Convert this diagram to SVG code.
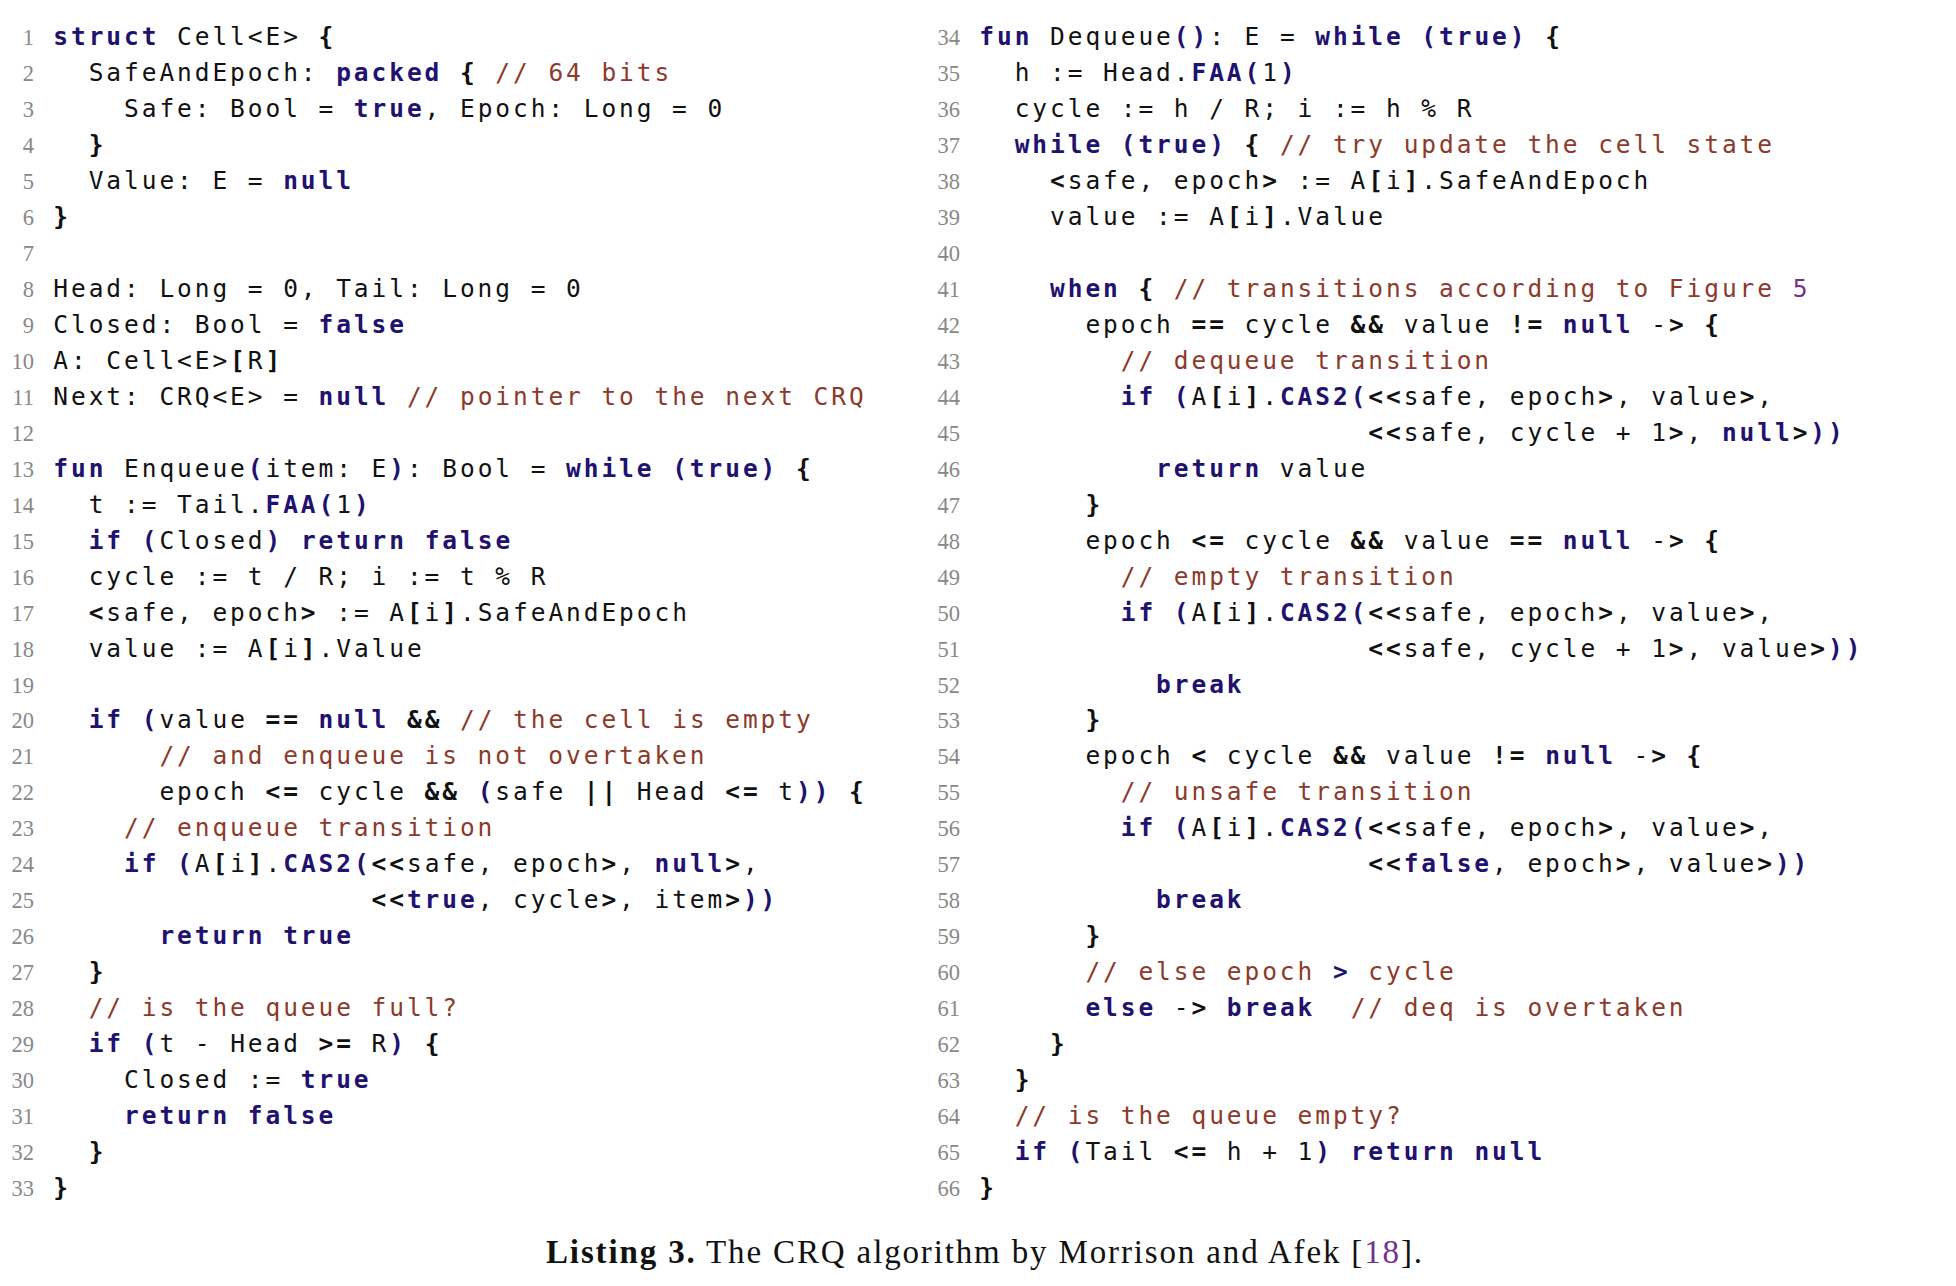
<svg xmlns="http://www.w3.org/2000/svg" width="1956" height="1286" viewBox="0 0 1956 1286">
<style>
.code{font-family:"DejaVu Sans Mono","Liberation Mono",monospace;font-size:24.5px;letter-spacing:2.93px;fill:#111}
.k{fill:#20126e;font-weight:bold}
.b{font-weight:bold}
.c{fill:#8b3a2b}
.p{fill:#74308e}
.ln{font-family:"Liberation Serif","DejaVu Serif",serif;font-size:22.5px;fill:#888;text-anchor:end}
.cap{font-family:"Liberation Serif","DejaVu Serif",serif;font-size:33px;fill:#111}
</style>
<rect width="1956" height="1286" fill="#fff"/>
<g id="left-numbers" class="ln">
<text x="34" y="45">1</text><text x="34" y="81">2</text><text x="34" y="116.9">3</text><text x="34" y="152.9">4</text><text x="34" y="188.9">5</text><text x="34" y="224.9">6</text><text x="34" y="260.8">7</text><text x="34" y="296.8">8</text><text x="34" y="332.8">9</text><text x="34" y="368.7">10</text><text x="34" y="404.7">11</text><text x="34" y="440.7">12</text><text x="34" y="476.6">13</text><text x="34" y="512.6">14</text><text x="34" y="548.6">15</text><text x="34" y="584.6">16</text><text x="34" y="620.5">17</text><text x="34" y="656.5">18</text><text x="34" y="692.5">19</text><text x="34" y="728.4">20</text><text x="34" y="764.4">21</text><text x="34" y="800.4">22</text><text x="34" y="836.3">23</text><text x="34" y="872.3">24</text><text x="34" y="908.3">25</text><text x="34" y="944.3">26</text><text x="34" y="980.2">27</text><text x="34" y="1016.2">28</text><text x="34" y="1052.2">29</text><text x="34" y="1088.1">30</text><text x="34" y="1124.1">31</text><text x="34" y="1160.1">32</text><text x="34" y="1196">33</text>
</g>
<g id="right-numbers" class="ln">
<text x="960" y="45">34</text><text x="960" y="81">35</text><text x="960" y="116.9">36</text><text x="960" y="152.9">37</text><text x="960" y="188.9">38</text><text x="960" y="224.9">39</text><text x="960" y="260.8">40</text><text x="960" y="296.8">41</text><text x="960" y="332.8">42</text><text x="960" y="368.7">43</text><text x="960" y="404.7">44</text><text x="960" y="440.7">45</text><text x="960" y="476.6">46</text><text x="960" y="512.6">47</text><text x="960" y="548.6">48</text><text x="960" y="584.6">49</text><text x="960" y="620.5">50</text><text x="960" y="656.5">51</text><text x="960" y="692.5">52</text><text x="960" y="728.4">53</text><text x="960" y="764.4">54</text><text x="960" y="800.4">55</text><text x="960" y="836.3">56</text><text x="960" y="872.3">57</text><text x="960" y="908.3">58</text><text x="960" y="944.3">59</text><text x="960" y="980.2">60</text><text x="960" y="1016.2">61</text><text x="960" y="1052.2">62</text><text x="960" y="1088.1">63</text><text x="960" y="1124.1">64</text><text x="960" y="1160.1">65</text><text x="960" y="1196">66</text>
</g>
<g id="left-code" class="code">
<text x="53.3" y="45"><tspan class="k">struct</tspan> Cell&lt;E&gt; <tspan class="b">{</tspan></text>
<text x="88.66" y="81">SafeAndEpoch: <tspan class="k">packed</tspan> <tspan class="b">{</tspan> <tspan class="c">// 64 bits</tspan></text>
<text x="124.02" y="116.9">Safe: Bool = <tspan class="k">true</tspan>, Epoch: Long = 0</text>
<text x="88.66" y="152.9"><tspan class="b">}</tspan></text>
<text x="88.66" y="188.9">Value: E = <tspan class="k">null</tspan></text>
<text x="53.3" y="224.9"><tspan class="b">}</tspan></text>
<text x="53.3" y="296.8">Head: Long = 0, Tail: Long = 0</text>
<text x="53.3" y="332.8">Closed: Bool = <tspan class="k">false</tspan></text>
<text x="53.3" y="368.7">A: Cell&lt;E&gt;<tspan class="b">[</tspan>R<tspan class="b">]</tspan></text>
<text x="53.3" y="404.7">Next: CRQ&lt;E&gt; = <tspan class="k">null</tspan> <tspan class="c">// pointer to the next CRQ</tspan></text>
<text x="53.3" y="476.6"><tspan class="k">fun</tspan> Enqueue<tspan class="k">(</tspan>item: E<tspan class="k">)</tspan>: Bool = <tspan class="k">while</tspan> <tspan class="k">(true)</tspan> <tspan class="b">{</tspan></text>
<text x="88.66" y="512.6">t := Tail.<tspan class="k">FAA(</tspan>1<tspan class="k">)</tspan></text>
<text x="88.66" y="548.6"><tspan class="k">if</tspan> <tspan class="k">(</tspan>Closed<tspan class="k">)</tspan> <tspan class="k">return</tspan> <tspan class="k">false</tspan></text>
<text x="88.66" y="584.6">cycle := t / R; i := t % R</text>
<text x="88.66" y="620.5"><tspan class="b">&lt;</tspan>safe, epoch<tspan class="b">&gt;</tspan> := A<tspan class="b">[</tspan>i<tspan class="b">]</tspan>.SafeAndEpoch</text>
<text x="88.66" y="656.5">value := A<tspan class="b">[</tspan>i<tspan class="b">]</tspan>.Value</text>
<text x="88.66" y="728.4"><tspan class="k">if</tspan> <tspan class="k">(</tspan>value <tspan class="b">==</tspan> <tspan class="k">null</tspan> <tspan class="b">&amp;&amp;</tspan> <tspan class="c">// the cell is empty</tspan></text>
<text x="159.38" y="764.4"><tspan class="c">// and enqueue is not overtaken</tspan></text>
<text x="159.38" y="800.4">epoch <tspan class="b">&lt;=</tspan> cycle <tspan class="b">&amp;&amp;</tspan> <tspan class="k">(</tspan>safe <tspan class="b">||</tspan> Head <tspan class="b">&lt;=</tspan> t<tspan class="k">))</tspan> <tspan class="b">{</tspan></text>
<text x="124.02" y="836.3"><tspan class="c">// enqueue transition</tspan></text>
<text x="124.02" y="872.3"><tspan class="k">if</tspan> <tspan class="k">(</tspan>A<tspan class="b">[</tspan>i<tspan class="b">]</tspan>.<tspan class="k">CAS2(</tspan><tspan class="b">&lt;&lt;</tspan>safe, epoch<tspan class="b">&gt;</tspan>, <tspan class="k">null</tspan><tspan class="b">&gt;</tspan>,</text>
<text x="371.54" y="908.3"><tspan class="b">&lt;&lt;</tspan><tspan class="k">true</tspan>, cycle<tspan class="b">&gt;</tspan>, item<tspan class="b">&gt;</tspan><tspan class="k">))</tspan></text>
<text x="159.38" y="944.3"><tspan class="k">return true</tspan></text>
<text x="88.66" y="980.2"><tspan class="b">}</tspan></text>
<text x="88.66" y="1016.2"><tspan class="c">// is the queue full?</tspan></text>
<text x="88.66" y="1052.2"><tspan class="k">if</tspan> <tspan class="k">(</tspan>t - Head <tspan class="b">&gt;=</tspan> R<tspan class="k">)</tspan> <tspan class="b">{</tspan></text>
<text x="124.02" y="1088.1">Closed := <tspan class="k">true</tspan></text>
<text x="124.02" y="1124.1"><tspan class="k">return false</tspan></text>
<text x="88.66" y="1160.1"><tspan class="b">}</tspan></text>
<text x="53.3" y="1196"><tspan class="b">}</tspan></text>
</g>
<g id="right-code" class="code">
<text x="979.3" y="45"><tspan class="k">fun</tspan> Dequeue<tspan class="k">()</tspan>: E = <tspan class="k">while</tspan> <tspan class="k">(true)</tspan> <tspan class="b">{</tspan></text>
<text x="1014.66" y="81">h := Head.<tspan class="k">FAA(</tspan>1<tspan class="k">)</tspan></text>
<text x="1014.66" y="116.9">cycle := h / R; i := h % R</text>
<text x="1014.66" y="152.9"><tspan class="k">while (true)</tspan> <tspan class="b">{</tspan> <tspan class="c">// try update the cell state</tspan></text>
<text x="1050.02" y="188.9"><tspan class="b">&lt;</tspan>safe, epoch<tspan class="b">&gt;</tspan> := A<tspan class="b">[</tspan>i<tspan class="b">]</tspan>.SafeAndEpoch</text>
<text x="1050.02" y="224.9">value := A<tspan class="b">[</tspan>i<tspan class="b">]</tspan>.Value</text>
<text x="1050.02" y="296.8"><tspan class="k">when</tspan> <tspan class="b">{</tspan> <tspan class="c">// transitions according to Figure </tspan><tspan class="p">5</tspan></text>
<text x="1085.38" y="332.8">epoch <tspan class="b">==</tspan> cycle <tspan class="b">&amp;&amp;</tspan> value <tspan class="b">!=</tspan> <tspan class="k">null</tspan> -<tspan class="b">&gt;</tspan> <tspan class="b">{</tspan></text>
<text x="1120.74" y="368.7"><tspan class="c">// dequeue transition</tspan></text>
<text x="1120.74" y="404.7"><tspan class="k">if</tspan> <tspan class="k">(</tspan>A<tspan class="b">[</tspan>i<tspan class="b">]</tspan>.<tspan class="k">CAS2(</tspan><tspan class="b">&lt;&lt;</tspan>safe, epoch<tspan class="b">&gt;</tspan>, value<tspan class="b">&gt;</tspan>,</text>
<text x="1368.26" y="440.7"><tspan class="b">&lt;&lt;</tspan>safe, cycle + 1<tspan class="b">&gt;</tspan>, <tspan class="k">null</tspan><tspan class="b">&gt;</tspan><tspan class="k">))</tspan></text>
<text x="1156.1" y="476.6"><tspan class="k">return</tspan> value</text>
<text x="1085.38" y="512.6"><tspan class="b">}</tspan></text>
<text x="1085.38" y="548.6">epoch <tspan class="b">&lt;=</tspan> cycle <tspan class="b">&amp;&amp;</tspan> value <tspan class="b">==</tspan> <tspan class="k">null</tspan> -<tspan class="b">&gt;</tspan> <tspan class="b">{</tspan></text>
<text x="1120.74" y="584.6"><tspan class="c">// empty transition</tspan></text>
<text x="1120.74" y="620.5"><tspan class="k">if</tspan> <tspan class="k">(</tspan>A<tspan class="b">[</tspan>i<tspan class="b">]</tspan>.<tspan class="k">CAS2(</tspan><tspan class="b">&lt;&lt;</tspan>safe, epoch<tspan class="b">&gt;</tspan>, value<tspan class="b">&gt;</tspan>,</text>
<text x="1368.26" y="656.5"><tspan class="b">&lt;&lt;</tspan>safe, cycle + 1<tspan class="b">&gt;</tspan>, value<tspan class="b">&gt;</tspan><tspan class="k">))</tspan></text>
<text x="1156.1" y="692.5"><tspan class="k">break</tspan></text>
<text x="1085.38" y="728.4"><tspan class="b">}</tspan></text>
<text x="1085.38" y="764.4">epoch <tspan class="b">&lt;</tspan> cycle <tspan class="b">&amp;&amp;</tspan> value <tspan class="b">!=</tspan> <tspan class="k">null</tspan> -<tspan class="b">&gt;</tspan> <tspan class="b">{</tspan></text>
<text x="1120.74" y="800.4"><tspan class="c">// unsafe transition</tspan></text>
<text x="1120.74" y="836.3"><tspan class="k">if</tspan> <tspan class="k">(</tspan>A<tspan class="b">[</tspan>i<tspan class="b">]</tspan>.<tspan class="k">CAS2(</tspan><tspan class="b">&lt;&lt;</tspan>safe, epoch<tspan class="b">&gt;</tspan>, value<tspan class="b">&gt;</tspan>,</text>
<text x="1368.26" y="872.3"><tspan class="b">&lt;&lt;</tspan><tspan class="k">false</tspan>, epoch<tspan class="b">&gt;</tspan>, value<tspan class="b">&gt;</tspan><tspan class="k">))</tspan></text>
<text x="1156.1" y="908.3"><tspan class="k">break</tspan></text>
<text x="1085.38" y="944.3"><tspan class="b">}</tspan></text>
<text x="1085.38" y="980.2"><tspan class="c">// else epoch </tspan><tspan class="k">&gt;</tspan><tspan class="c"> cycle</tspan></text>
<text x="1085.38" y="1016.2"><tspan class="k">else</tspan> -<tspan class="b">&gt;</tspan> <tspan class="k">break</tspan> <tspan class="c" dx="17.68">// deq is overtaken</tspan></text>
<text x="1050.02" y="1052.2"><tspan class="b">}</tspan></text>
<text x="1014.66" y="1088.1"><tspan class="b">}</tspan></text>
<text x="1014.66" y="1124.1"><tspan class="c">// is the queue empty?</tspan></text>
<text x="1014.66" y="1160.1"><tspan class="k">if</tspan> <tspan class="k">(</tspan>Tail <tspan class="b">&lt;=</tspan> h + 1<tspan class="k">)</tspan> <tspan class="k">return</tspan> <tspan class="k">null</tspan></text>
<text x="979.3" y="1196"><tspan class="b">}</tspan></text>
</g>
<g id="caption">
<text class="cap" x="546" y="1263" textLength="876" lengthAdjust="spacing"><tspan font-weight="bold">Listing 3.</tspan> The CRQ algorithm by Morrison and Afek [<tspan class="p">18</tspan>].</text>
</g>
</svg>
